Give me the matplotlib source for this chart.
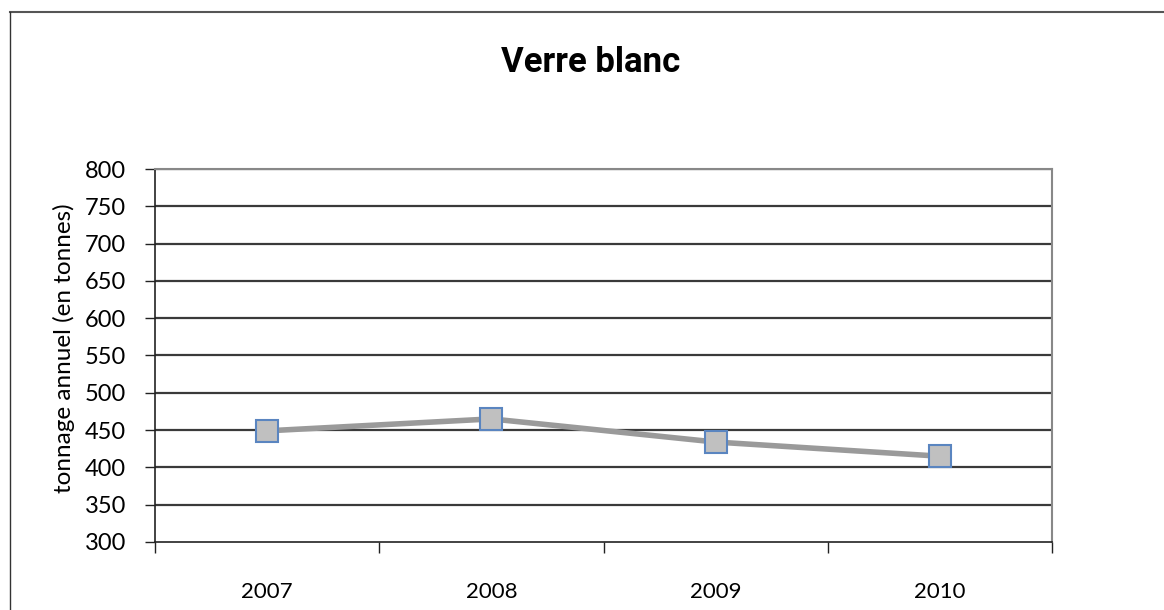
import matplotlib
matplotlib.use("Agg")
import matplotlib.pyplot as plt
from matplotlib.lines import Line2D
from matplotlib import font_manager

years = ["2007", "2008", "2009", "2010"]
tonnage = [449, 465, 434, 415]
yticks = [300, 350, 400, 450, 500, 550, 600, 650, 700, 750, 800]

names = {f.name for f in font_manager.fontManager.ttflist}
title_fam = ['Liberation Sans Narrow'] if 'Liberation Sans Narrow' in names else ['Roboto', 'DejaVu Sans']
plt.rcParams['font.family'] = ['Lato', 'DejaVu Sans']

fig = plt.figure(figsize=(11.64, 6.10), dpi=100)
W, H = 1164, 610
ax = fig.add_axes([155 / W, 1 - 542 / H, (1052 - 155) / W, (542 - 169) / H])

# outer frame
fig.add_artist(Line2D([10 / W, 1.0], [1 - 12 / H, 1 - 12 / H], color="#555555", lw=1.5, transform=fig.transFigure))
fig.add_artist(Line2D([10 / W, 10 / W], [0, 1 - 12 / H], color="#333333", lw=1.0, transform=fig.transFigure))

xs = [i + 0.5 for i in range(len(years))]
ax.set_xlim(0, len(years))
ax.set_ylim(300, 800)
ax.set_yticks(yticks)
ax.set_yticklabels([str(v) for v in yticks], fontsize=17)
for v in yticks[1:]:
    ax.axhline(v, color="#3a3a3a", lw=1.6, zorder=1)

ax.set_xticks(range(len(years) + 1))
ax.set_xticklabels([])
ax.set_xticks(xs, minor=True)
ax.set_xticklabels(years, minor=True, fontsize=16)
ax.tick_params(axis='x', which='major', length=8, width=1, color="#222222", direction='out')
ax.tick_params(axis='x', which='minor', length=0, pad=29)
ax.tick_params(axis='y', length=7, width=1, color="#222222", direction='out', pad=14)

ax.plot(xs, tonnage, color="#9a9a9a", lw=4, zorder=3, solid_capstyle='round')
ax.plot(xs, tonnage, linestyle='none', marker='s', markersize=16,
        markerfacecolor="#c0c0c0", markeredgecolor="#5a85c0", markeredgewidth=1.5, zorder=4)

for s in ['left', 'bottom']:
    ax.spines[s].set_color("#222222")
    ax.spines[s].set_linewidth(1.2)
ax.spines['right'].set_color("#888888")
ax.spines['right'].set_linewidth(1.5)
ax.spines['top'].set_color("#888888")
ax.spines['top'].set_linewidth(1.5)

ax.set_ylabel("tonnage annuel (en tonnes)", fontsize=17.5)
ax.yaxis.set_label_coords(-0.089, 0.52)

fig.text(0.507, 1 - 62 / H, "Verre blanc", ha='center', va='center', fontsize=25,
         fontweight='bold', family=title_fam)

fig.savefig("out.png", dpi=100)
